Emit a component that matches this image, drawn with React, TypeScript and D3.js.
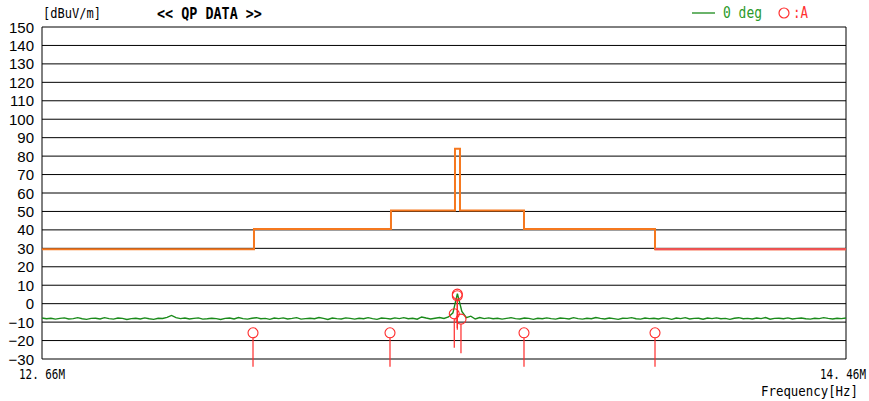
import React, { useRef, useEffect } from "react";
import * as d3 from "d3";

// y ticks, dBuV/m
const yTicks = [150, 140, 130, 120, 110, 100, 90, 80, 70, 60, 50, 40, 30, 20, 10, 0, -10, -20, -30];

// measured trace (0 deg), one point every 0.01 MHz from 12.66 MHz
const traceStartMHz = 12.66;
const traceStepMHz = 0.01;
const traceLevels = [
  -7.8, -8.2, -7.9, -8.4, -8.0, -7.7, -8.3, -8.1, -7.6, -8.2,
  -8.5, -8.0, -7.9, -8.3, -7.6, -8.1, -8.4, -7.8, -8.0, -8.6,
  -8.1, -7.9, -8.3, -7.7, -8.2, -8.5, -7.9, -8.0, -7.4, -6.4,
  -7.6, -8.1, -7.8, -8.3, -8.0, -7.7, -8.4, -8.2, -7.9, -8.1,
  -8.6, -8.0, -7.8, -8.3, -7.5, -8.1, -8.4, -7.9, -7.6, -8.2,
  -8.0, -8.5, -7.8, -8.1, -7.7, -8.3, -8.0, -7.6, -8.4, -8.1,
  -7.9, -8.2, -7.5, -8.0, -8.6, -7.8, -8.1, -8.3, -7.7, -8.0,
  -8.4, -7.9, -8.2, -7.6, -8.1, -8.5, -7.8, -8.0, -8.3, -7.7,
  -8.1, -7.6, -8.2, -7.9, -8.4, -7.2, -7.8, -8.3, -7.9, -7.5,
  -8.0, -7.2, -5.0, 5.4, -4.2, -7.6,
  -6.8, -8.3, -7.5, -8.1,
  -7.7, -8.2, -7.9, -8.4, -8.0, -7.6, -8.1, -8.3, -7.8, -8.0,
  -8.5, -7.9, -8.2, -7.7, -8.1, -8.4, -7.8, -8.0, -8.3, -7.6,
  -8.1, -8.4, -7.9, -8.2, -7.5, -8.0, -8.3, -7.8, -8.1, -8.5,
  -7.9, -8.0, -7.6, -8.2, -8.4, -7.8, -8.1, -7.9, -8.3, -7.7,
  -8.0, -8.5, -7.8, -8.1, -7.6, -8.3, -8.0, -7.9, -8.4, -7.8,
  -8.1, -7.7, -8.2, -8.0, -8.5, -7.9, -7.6, -8.2, -8.0, -8.3,
  -7.8, -8.1, -7.5, -8.4, -8.0, -7.9, -8.2, -7.7, -8.3, -8.0,
  -7.8, -8.2, -8.4, -7.9, -8.1, -7.6, -8.0, -8.3, -7.9, -8.1, -7.8,
];

// QP limit line (stepped)
const limitFreqs = [
  12.66, 13.1346, 13.1346, 13.4413, 13.4413, 13.5846, 13.5846,
  13.5958, 13.5958, 13.7391, 13.7391, 14.0324, 14.0324, 14.46,
];
const limitLevels = [29.5, 29.5, 40.5, 40.5, 50.5, 50.5, 84, 84, 50.5, 50.5, 40.5, 40.5, 29.5, 29.5];
const limitTailFreqs = [14.0324, 14.46];
const limitTailLevels = [29.5, 29.5];

// QP markers (A)
const markerFreqs = [13.1324, 13.4391, 13.583, 13.5898, 13.5898, 13.598, 13.7391, 14.0324];
const markerLevels = [-15.8, -15.8, -5.5, 5.2, 4.3, -8.4, -15.8, -15.8];

const WIDTH = 869;
const HEIGHT = 401;
const mono = "'DejaVu Sans Mono', 'Liberation Mono', monospace";
const sans = "'Liberation Sans', Arial, sans-serif";

const App = () => {
  const ref = useRef<SVGSVGElement | null>(null);

  useEffect(() => {
    document.body.style.margin = "0";
    if (!ref.current) return;
    const svg = d3.select(ref.current);
    svg.selectAll("*").remove();

    const left = 42;
    const right = 846;
    const top = 27;
    const bottom = 359;

    const x = d3.scaleLinear().domain([12.66, 14.46]).range([left, right]);
    const y = d3.scaleLinear().domain([-30, 150]).range([bottom, top]);
    const idx = d3
      .scaleLinear()
      .domain([0, 1])
      .range([traceStartMHz, traceStartMHz + traceStepMHz]);

    svg.append("rect").attr("width", WIDTH).attr("height", HEIGHT).attr("fill", "#fff");

    // monospace label squeezed horizontally to the width seen in the reference
    const monoText = (
      tx: number,
      ty: number,
      txt: string,
      w: number,
      size: number,
      color = "#000",
      bold = false
    ) => {
      const natural = txt.length * size * 0.602;
      const sx = w / natural;
      svg
        .append("text")
        .attr("transform", `translate(${tx},${ty}) scale(${sx},1)`)
        .style("font-family", mono)
        .style("font-size", `${size}px`)
        .style("font-weight", bold ? "bold" : "normal")
        .attr("fill", color)
        .text(txt);
    };

    // grid lines
    svg
      .append("g")
      .selectAll("line")
      .data(yTicks)
      .enter()
      .append("line")
      .attr("x1", left)
      .attr("x2", right)
      .attr("y1", (d) => y(d))
      .attr("y2", (d) => y(d))
      .attr("stroke", "#000")
      .attr("stroke-width", 1);

    // frame left / right
    svg
      .append("line")
      .attr("x1", left)
      .attr("x2", left)
      .attr("y1", top)
      .attr("y2", bottom)
      .attr("stroke", "#000");
    svg
      .append("line")
      .attr("x1", right)
      .attr("x2", right)
      .attr("y1", top)
      .attr("y2", bottom)
      .attr("stroke", "#000");

    // y labels
    svg
      .append("g")
      .selectAll("text")
      .data(yTicks)
      .enter()
      .append("text")
      .attr("x", 34)
      .attr("y", (d) => y(d) + 5.5)
      .attr("text-anchor", "end")
      .style("font-family", sans)
      .style("font-size", "15px")
      .attr("fill", "#000")
      .text((d) => (d < 0 ? `\u2212${-d}` : `${d}`));

    // limit
    const lim = d3
      .line<number>()
      .x((_, i) => x(limitFreqs[i]))
      .y((d) => y(d));
    svg
      .append("path")
      .datum(limitLevels)
      .attr("fill", "none")
      .attr("stroke", "#f5781f")
      .attr("stroke-width", 2)
      .attr("d", lim);
    svg
      .append("path")
      .datum(limitTailLevels)
      .attr("fill", "none")
      .attr("stroke", "#f2505a")
      .attr("stroke-width", 2)
      .attr("d", d3.line<number>().x((_, i) => x(limitTailFreqs[i])).y((d) => y(d)));

    // trace
    const trace = d3
      .line<number>()
      .x((_, i) => x(idx(i)))
      .y((d) => y(d));
    svg
      .append("path")
      .datum(traceLevels)
      .attr("fill", "none")
      .attr("stroke", "#1a8a1a")
      .attr("stroke-width", 1.4)
      .attr("d", trace);

    // markers
    const r = 5;
    const stem = 34;
    const mk = svg.append("g");
    markerLevels.forEach((lv, i) => {
      const cx = x(markerFreqs[i]);
      const cy = y(lv);
      mk.append("circle")
        .attr("cx", cx)
        .attr("cy", cy)
        .attr("r", r)
        .attr("fill", "none")
        .attr("stroke", "#ff2a2a")
        .attr("stroke-width", 1.1);
      mk.append("line")
        .attr("x1", cx)
        .attr("x2", cx)
        .attr("y1", cy + r)
        .attr("y2", cy + stem)
        .attr("stroke", "#ff2a2a")
        .attr("stroke-width", 1.2);
    });

    // header texts
    monoText(43, 18, "[dBuV/m]", 58, 14);
    monoText(157, 19, "<< QP DATA >>", 105, 15, "#000", true);

    // legend
    svg
      .append("line")
      .attr("x1", 692)
      .attr("x2", 715)
      .attr("y1", 13)
      .attr("y2", 13)
      .attr("stroke", "#1a8a1a")
      .attr("stroke-width", 1.3);
    monoText(723, 18, "0 deg", 39, 15, "#2a9a2a");
    svg
      .append("circle")
      .attr("cx", 784)
      .attr("cy", 13)
      .attr("r", 5)
      .attr("fill", "none")
      .attr("stroke", "#ff3030")
      .attr("stroke-width", 1.2);
    monoText(793, 18, ":A", 15, 15, "#ff3030");

    // x labels
    monoText(19, 379, "12. 66M", 46, 14);
    monoText(820, 379, "14. 46M", 46, 14);
    monoText(761, 396, "Frequency[Hz]", 97, 14);
  }, []);

  return <svg ref={ref} width={WIDTH} height={HEIGHT} style={{ display: "block" }} />;
};

export default App;
